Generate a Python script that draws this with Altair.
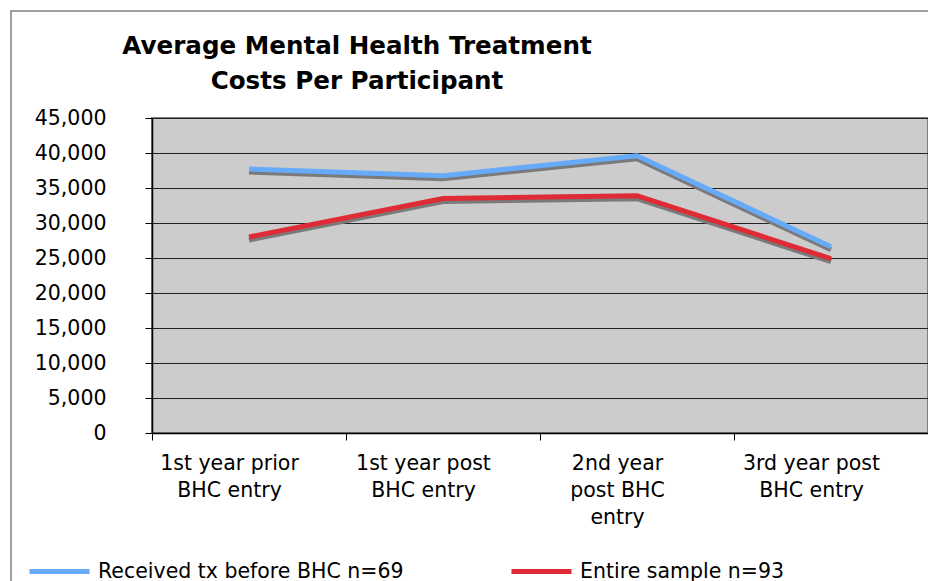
import altair as alt
import pandas as pd

categories = ["1st year prior\nBHC entry", "1st year post\nBHC entry",
              "2nd year\npost BHC\nentry", "3rd year post\nBHC entry"]
series_names = ["Received tx before BHC n=69", "Entire sample n=93"]
received = [37700, 36750, 39600, 26600]
entire = [28000, 33500, 33900, 24900]
y_ticks = [0, 5000, 10000, 15000, 20000, 25000, 30000, 35000, 40000, 45000]
colors = ["#66AAF8", "#DE2B35"]

rows = []
for i, c in enumerate(categories):
    rows.append({"cat": c, "series": series_names[0], "value": received[i], "o": i})
    rows.append({"cat": c, "series": series_names[1], "value": entire[i], "o": i})
df = pd.DataFrame(rows)

FONT = "DejaVu Sans"
FS = 20.5

x_enc = alt.X("cat:N", sort=categories, title=None,
              scale=alt.Scale(type="band", paddingInner=0, paddingOuter=0),
              axis=alt.Axis(labelExpr="split(datum.label, '\\n')", labelAngle=0,
                            tickBand="extent", labelOffset=-20, labelLineHeight=27,
                            labelPadding=13, labelFontSize=FS, labelFont=FONT,
                            labelColor="black", domainColor="black", domainWidth=1.5,
                            tickColor="black", tickSize=7, grid=False))
y_enc = alt.Y("value:Q", title=None,
              scale=alt.Scale(domain=[0, 45000], nice=False, zero=True),
              axis=alt.Axis(values=y_ticks, format=",d", labelFontSize=FS, labelFont=FONT,
                            labelColor="black", labelPadding=39, tickSize=7,
                            labelOverlap=False,
                            tickColor="black", domainColor="black", domainWidth=1.5,
                            grid=True, gridColor="#222222", gridWidth=1))

shadow = alt.Chart(df).mark_line(color="#7A7A7A", strokeWidth=5, yOffset=3).encode(
    x=x_enc, y=y_enc, detail="series:N", order="o:Q")

lines = alt.Chart(df).mark_line(strokeWidth=5).encode(
    x=x_enc,
    y=y_enc,
    order="o:Q",
    color=alt.Color("series:N", sort=series_names,
                    scale=alt.Scale(domain=series_names, range=colors),
                    legend=alt.Legend(title=None, orient="none", legendX=-125, legendY=421,
                                      direction="horizontal", symbolType="stroke",
                                      symbolSize=3600, symbolStrokeWidth=5,
                                      labelFontSize=FS, labelFont=FONT, labelColor="black",
                                      labelLimit=500, columnPadding=97, labelOffset=6)))

frame = alt.Chart(pd.DataFrame({"a": [0]})).mark_rect(
    fill="transparent", stroke="#808080", strokeWidth=1.5).encode(
    x=alt.value(-141), x2=alt.value(820), y=alt.value(-107), y2=alt.value(500))

chart = alt.layer(frame, shadow, lines).properties(
    width=776, height=315,
    autosize=alt.AutoSizeParams(type="none"),
    padding={"left": 144, "top": 110, "right": 0, "bottom": 158},
    title=alt.TitleParams(["Average Mental Health Treatment", "Costs Per Participant"],
                          font=FONT, fontSize=24.6, fontWeight="bold", color="black",
                          anchor="middle", frame="group", dx=-183, offset=-84,
                          lineHeight=35),
).configure_view(fill="#CCCCCC", stroke="#7F7F7F", strokeWidth=2
).configure_axisY(labelOverlap=False)

chart.save("out.html", embed_options={"renderer": "svg", "actions": False})
